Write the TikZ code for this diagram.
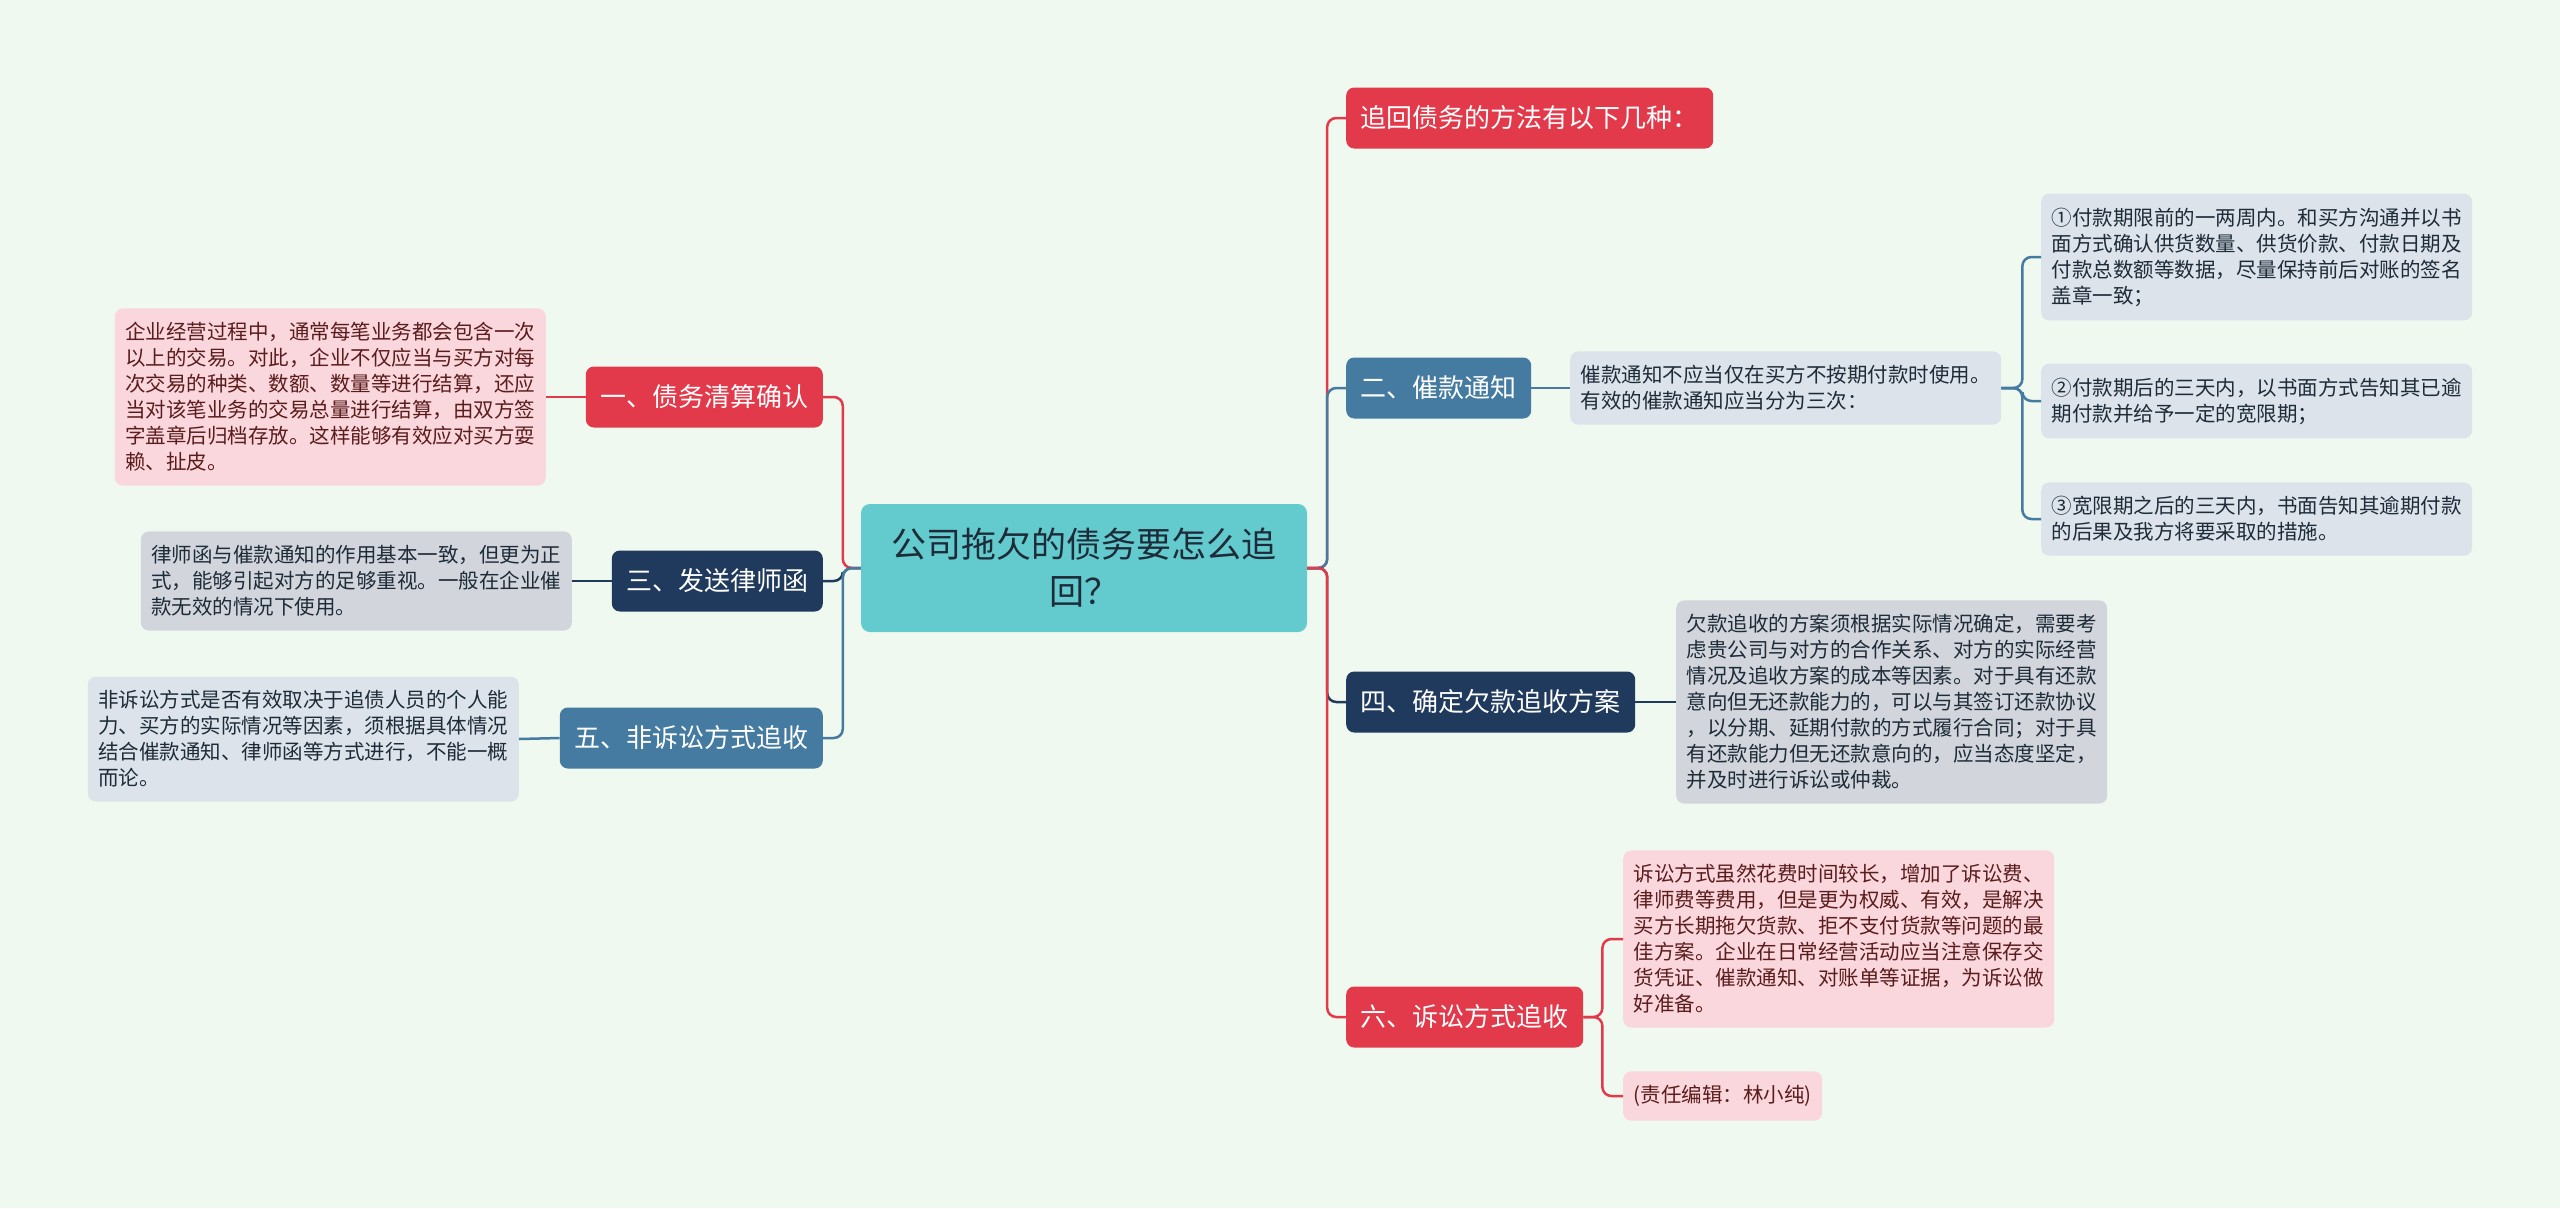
\documentclass[tikz,border=0pt]{standalone}
\usepackage{fontspec}
\setmainfont{Noto Sans CJK SC}

\definecolor{fond}{HTML}{F0F9EF}
\definecolor{rouge}{HTML}{E23A4B}
\definecolor{rose}{HTML}{FAD7DC}
\definecolor{marine}{HTML}{1F3A5D}
\definecolor{acier}{HTML}{457BA1}
\definecolor{gris}{HTML}{D2D6DC}
\definecolor{grisbleu}{HTML}{DCE3EA}
\definecolor{turquoise}{HTML}{63CBCE}
\definecolor{brun}{HTML}{5A1C1C}
\definecolor{encre}{HTML}{1E2B38}

\tikzset{
  centre/.style={fill=turquoise, rounded corners=9pt, align=center, text=encre,
    minimum width=446pt, minimum height=128pt, font=\fontsize{35}{47}\selectfont},
  branche/.style={rounded corners=8pt, minimum height=61pt, inner xsep=14.5pt,
    inner ysep=0pt, text=white, font=\fontsize{26}{30}\selectfont},
  feuille/.style={rounded corners=8pt, align=left, inner xsep=10.5pt, inner ysep=14pt,
    font=\fontsize{20.5}{26}\selectfont},
  lien/.style={line width=2.5pt, rounded corners=9pt},
}

\begin{document}
\begin{tikzpicture}[x=1pt,y=-1pt]
\useasboundingbox[fill=fond] (0,0) rectangle (2560,1208);

% noeud central
\node[centre] (root) at (1084,568) {公司拖欠的债务要怎么追\\回？};

% branches de droite
\node[branche, fill=rouge, anchor=west] (intro) at (1346,118) {追回债务的方法有以下几种：};
\node[branche, fill=acier, anchor=west] (n2) at (1346,388) {二、催款通知};
\node[branche, fill=marine, anchor=west] (n4) at (1346,702) {四、确定欠款追收方案};
\node[branche, fill=rouge, anchor=west] (n6) at (1346,1017) {六、诉讼方式追收};

% branches de gauche
\node[branche, fill=rouge, anchor=east] (n1) at (823,397) {一、债务清算确认};
\node[branche, fill=marine, anchor=east] (n3) at (823,581) {三、发送律师函};
\node[branche, fill=acier, anchor=east] (n5) at (823,738) {五、非诉讼方式追收};

% feuilles
\node[feuille, fill=rose, text=brun, anchor=east] (f1) at (546,397) {企业经营过程中，通常每笔业务都会包含一次\\以上的交易。对此，企业不仅应当与买方对每\\次交易的种类、数额、数量等进行结算，还应\\当对该笔业务的交易总量进行结算，由双方签\\字盖章后归档存放。这样能够有效应对买方耍\\赖、扯皮。};
\node[feuille, fill=gris, text=encre, anchor=east] (f3) at (572,581) {律师函与催款通知的作用基本一致，但更为正\\式，能够引起对方的足够重视。一般在企业催\\款无效的情况下使用。};
\node[feuille, fill=grisbleu, text=encre, anchor=east] (f5) at (519,739) {非诉讼方式是否有效取决于追债人员的个人能\\力、买方的实际情况等因素，须根据具体情况\\结合催款通知、律师函等方式进行，不能一概\\而论。};

\node[feuille, fill=grisbleu, text=encre, anchor=west] (f2) at (1570,388) {催款通知不应当仅在买方不按期付款时使用。\\有效的催款通知应当分为三次：};
\node[feuille, fill=grisbleu, text=encre, anchor=west] (f2a) at (2041,257) {①付款期限前的一两周内。和买方沟通并以书\\面方式确认供货数量、供货价款、付款日期及\\付款总数额等数据，尽量保持前后对账的签名\\盖章一致；};
\node[feuille, fill=grisbleu, text=encre, anchor=west] (f2b) at (2041,401) {②付款期后的三天内，以书面方式告知其已逾\\期付款并给予一定的宽限期；};
\node[feuille, fill=grisbleu, text=encre, anchor=west] (f2c) at (2041,519) {③宽限期之后的三天内，书面告知其逾期付款\\的后果及我方将要采取的措施。};
\node[feuille, fill=gris, text=encre, anchor=west] (f4) at (1676,702) {欠款追收的方案须根据实际情况确定，需要考\\虑贵公司与对方的合作关系、对方的实际经营\\情况及追收方案的成本等因素。对于具有还款\\意向但无还款能力的，可以与其签订还款协议\\，以分期、延期付款的方式履行合同；对于具\\有还款能力但无还款意向的，应当态度坚定，\\并及时进行诉讼或仲裁。};
\node[feuille, fill=rose, text=brun, anchor=west] (f6a) at (1623,939) {诉讼方式虽然花费时间较长，增加了诉讼费、\\律师费等费用，但是更为权威、有效，是解决\\买方长期拖欠货款、拒不支付货款等问题的最\\佳方案。企业在日常经营活动应当注意保存交\\货凭证、催款通知、对账单等证据，为诉讼做\\好准备。};
\node[feuille, fill=rose, text=brun, anchor=west] (f6b) at (1623,1096) {(责任编辑：林小纯)};

% liens du centre
\foreach \n/\c in {intro/rouge,n2/acier,n4/marine,n6/rouge}
  \draw[lien,\c] (root.east) -- ++(20,0) |- (\n.west);
\foreach \n/\c in {n1/rouge,n3/marine,n5/acier}
  \draw[lien,\c] (root.west) -- ++(-18,0) |- (\n.east);

% liens vers les feuilles
\draw[lien,rouge] (n1.west) -- (f1.east);
\draw[lien,marine] (n3.west) -- (f3.east);
\draw[lien,acier] (n5.west) -- (f5.east);
\draw[lien,acier] (n2.east) -- (f2.west);
\draw[lien,marine] (n4.east) -- (f4.west);
\foreach \f in {f2a,f2b,f2c}
  \draw[lien,acier] (f2.east) -- ++(21,0) |- (\f.west);
\foreach \f in {f6a,f6b}
  \draw[lien,rouge] (n6.east) -- ++(19,0) |- (\f.west);

\end{tikzpicture}
\end{document}
